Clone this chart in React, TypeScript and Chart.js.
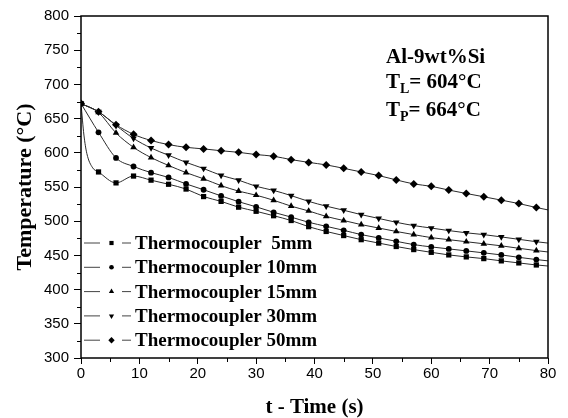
import React, { useEffect, useRef } from "react";
import { Chart, registerables } from "chart.js";

Chart.register(...registerables);

// ---- data ----
const TIME = [0, 3, 6, 9, 12, 15, 18, 21, 24, 27, 30, 33, 36, 39, 42, 45, 48, 51, 54, 57, 60, 63, 66, 69, 72, 75, 78];
const TC_5MM = [672, 572, 556, 566, 560, 554, 547, 536, 529, 520.5, 514.5, 508, 501, 492, 485, 479, 473, 468, 463, 458.5, 454.5, 450.7, 447.8, 445.3, 442, 439, 436];
const TC_5MM_EARLY_T = [0.5, 1, 2];
const TC_5MM_EARLY = [626, 599, 578];
const TC_10MM = [672, 630, 592.5, 580, 571, 564, 554.5, 546, 537, 528.5, 521, 513, 506, 498.4, 492.5, 486.7, 480.4, 475.6, 470.6, 465.8, 462.4, 459.5, 456.6, 453.7, 450.7, 447.2, 443.9];
const TC_15MM = [672, 659, 629, 608, 593, 581.5, 571, 562, 552, 544, 538, 530.6, 522, 515, 507, 501, 495, 490, 485, 480.4, 476, 473, 470, 467, 464, 460.4, 457];
const TC_30MM = [672, 660, 640, 621, 607, 596.4, 586, 577, 567, 560, 551, 545, 537.4, 529, 522, 516, 509.6, 504, 498.4, 493.6, 490, 486.3, 483, 480.4, 477, 473.5, 470];
const TC_50MM = [672, 660, 641, 627, 618, 612, 608, 605.7, 603, 600.7, 597.4, 595, 590, 586, 582.3, 577.3, 572, 566.7, 560.4, 554.5, 551, 545.5, 540.5, 535.7, 530.8, 525.8, 520];
// values where the lines meet the right frame (t = 80 s, no marker)
const END_T = 80;
const END_VALUES = [434.5, 442, 455, 468, 516.5];
const SERIES_LABELS = ["Thermocoupler  5mm", "Thermocoupler 10mm", "Thermocoupler 15mm", "Thermocoupler 30mm", "Thermocoupler 50mm"];
const X_MIN = 0, X_MAX = 80, X_STEP = 10, X_MINOR = 5;
const Y_MIN = 300, Y_MAX = 800, Y_STEP = 50, Y_MINOR = 25;
const ALLOY = "Al-9wt%Si";
const TL_TEXT = "= 604°C";
const TP_TEXT = "= 664°C";
const X_TITLE = "t - Time (s)";
const Y_TITLE = "Temperature (°C)";

const SERIF = "'Liberation Serif', 'Times New Roman', serif";
const SANS = "'Liberation Sans', Arial, sans-serif";

function toPoints(ts: number[], vs: number[]) {
  return ts.map((t, i) => ({ x: t, y: vs[i] }));
}

const STYLES = [
  { pointStyle: "rect", radius: 3.7, rotation: 0 },
  { pointStyle: "circle", radius: 2.9, rotation: 0 },
  { pointStyle: "triangle", radius: 3.8, rotation: 0 },
  { pointStyle: "triangle", radius: 3.8, rotation: 180 },
  { pointStyle: "rectRot", radius: 4, rotation: 0 },
];

function drawMarker(ctx: CanvasRenderingContext2D, style: string, r: number, rot: number, x: number, y: number) {
  ctx.save();
  ctx.translate(x, y);
  ctx.rotate((rot * Math.PI) / 180);
  ctx.beginPath();
  if (style === "rect") {
    const s = r * Math.SQRT1_2;
    ctx.rect(-s, -s, 2 * s, 2 * s);
  } else if (style === "circle") {
    ctx.arc(0, 0, r, 0, Math.PI * 2);
  } else if (style === "triangle") {
    ctx.moveTo(0, -r);
    ctx.lineTo(r * 0.866, r * 0.5);
    ctx.lineTo(-r * 0.866, r * 0.5);
    ctx.closePath();
  } else {
    ctx.moveTo(0, -r);
    ctx.lineTo(r, 0);
    ctx.lineTo(0, r);
    ctx.lineTo(-r, 0);
    ctx.closePath();
  }
  ctx.fill();
  ctx.restore();
}

const framePlugin = {
  id: "frameAndMinor",
  afterDraw(chart: any) {
    const { ctx, chartArea: a, scales } = chart;
    ctx.save();
    ctx.strokeStyle = "#000";
    ctx.lineWidth = 1;
    // minor ticks
    ctx.beginPath();
    for (let v = X_MIN + X_MINOR; v < X_MAX; v += X_STEP) {
      const px = Math.round(scales.x.getPixelForValue(v)) + 0.5;
      ctx.moveTo(px, a.bottom);
      ctx.lineTo(px, a.bottom + 4);
    }
    for (let v = Y_MIN + Y_MINOR; v < Y_MAX; v += Y_STEP) {
      const py = Math.round(scales.y.getPixelForValue(v)) + 0.5;
      ctx.moveTo(a.left, py);
      ctx.lineTo(a.left - 4, py);
    }
    ctx.stroke();
    // frame
    ctx.lineWidth = 1.5;
    ctx.strokeRect(a.left, a.top, a.right - a.left, a.bottom - a.top);

    // legend
    chart.data.datasets.forEach((ds: any, i: number) => {
      const cy = 243 + i * 24.3;
      ctx.strokeStyle = "#444";
      ctx.lineWidth = 1;
      ctx.beginPath();
      ctx.moveTo(84, cy);
      ctx.lineTo(100, cy);
      ctx.moveTo(122, cy);
      ctx.lineTo(131, cy);
      ctx.stroke();
      ctx.fillStyle = "#000";
      const st = STYLES[i];
      drawMarker(ctx, st.pointStyle, st.radius * 0.8, st.rotation, 111.5, cy);
      ctx.font = `bold 19px ${SERIF}`;
      ctx.textBaseline = "middle";
      ctx.textAlign = "left";
      ctx.fillStyle = "#000";
      ctx.fillText(ds.label, 135, cy + 1);
    });

    // annotation
    ctx.fillStyle = "#000";
    ctx.textBaseline = "alphabetic";
    ctx.textAlign = "left";
    ctx.font = `bold 21px ${SERIF}`;
    ctx.fillText(ALLOY, 386, 63);
    const sub = (main: string, s: string, rest: string, y: number) => {
      ctx.font = `bold 21px ${SERIF}`;
      ctx.fillText(main, 386, y);
      let x = 386 + ctx.measureText(main).width;
      ctx.font = `bold 14px ${SERIF}`;
      ctx.fillText(s, x, y + 5);
      x += ctx.measureText(s).width;
      ctx.font = `bold 21px ${SERIF}`;
      ctx.fillText(rest, x, y);
    };
    sub("T", "L", TL_TEXT, 88);
    sub("T", "P", TP_TEXT, 116);
    ctx.restore();
  },
};

export default function App() {
  const ref = useRef<HTMLCanvasElement | null>(null);
  useEffect(() => {
    if (!ref.current) return;
    const t5 = [...TIME.slice(0, 1), ...TC_5MM_EARLY_T, ...TIME.slice(1)];
    const v5 = [...TC_5MM.slice(0, 1), ...TC_5MM_EARLY, ...TC_5MM.slice(1)];
    const base = [
      [t5, v5],
      [TIME, TC_10MM],
      [TIME, TC_15MM],
      [TIME, TC_30MM],
      [TIME, TC_50MM],
    ];
    const series = base.map(([ts, vs], i) => [...toPoints(ts, vs), { x: END_T, y: END_VALUES[i] }]);
    const chart = new Chart(ref.current, {
      type: "line",
      data: {
        datasets: series.map((d, i) => ({
          label: SERIES_LABELS[i],
          data: d,
          borderColor: "#2a2a2a",
          borderWidth: 1,
          backgroundColor: "#000",
          pointBackgroundColor: "#000",
          pointBorderColor: "#000",
          pointBorderWidth: 0,
          pointStyle: STYLES[i].pointStyle as any,
          pointRotation: STYLES[i].rotation,
          pointRadius: (c: any) => (c.raw && c.raw.x % 3 === 0 ? STYLES[i].radius : 0),
          cubicInterpolationMode: "monotone",
          fill: false,
        })),
      },
      options: {
        responsive: false,
        animation: false,
        devicePixelRatio: 1,
        layout: { padding: { top: 16, right: 20, bottom: 0, left: 0 } },
        plugins: { legend: { display: false }, tooltip: { enabled: false } },
        scales: {
          x: {
            type: "linear",
            min: X_MIN,
            max: X_MAX,
            ticks: { stepSize: X_STEP, color: "#000", font: { family: SANS, size: 15 }, padding: 1, maxRotation: 0 },
            grid: { drawOnChartArea: false, drawTicks: true, tickLength: 6, color: "#000", tickColor: "#000", tickWidth: 1 },
            border: { display: false },
            title: {
              display: true,
              text: X_TITLE,
              color: "#000",
              font: { family: SERIF, size: 21, weight: "bold", lineHeight: 1 },
              padding: { top: 0, bottom: 0 },
            },
            afterFit: (s: any) => {
              s.height = 60;
            },
          },
          y: {
            min: Y_MIN,
            max: Y_MAX,
            ticks: { stepSize: Y_STEP, color: "#000", font: { family: SANS, size: 15 }, padding: 5 },
            grid: { drawOnChartArea: false, drawTicks: true, tickLength: 7, color: "#000", tickColor: "#000", tickWidth: 1 },
            border: { display: false },
            title: {
              display: true,
              text: Y_TITLE,
              color: "#000",
              font: { family: SERIF, size: 22, weight: "bold", lineHeight: 1 },
              padding: { top: 14, bottom: 0 },
            },
            afterFit: (s: any) => {
              s.width = 81;
            },
          },
        },
      },
      plugins: [framePlugin],
    } as any);
    return () => chart.destroy();
  }, []);
  return (
    <div style={{ position: "fixed", left: 0, top: 0, width: 568, height: 418, background: "#fff" }}>
      <canvas ref={ref} width={568} height={418} style={{ width: 568, height: 418 }} />
    </div>
  );
}
